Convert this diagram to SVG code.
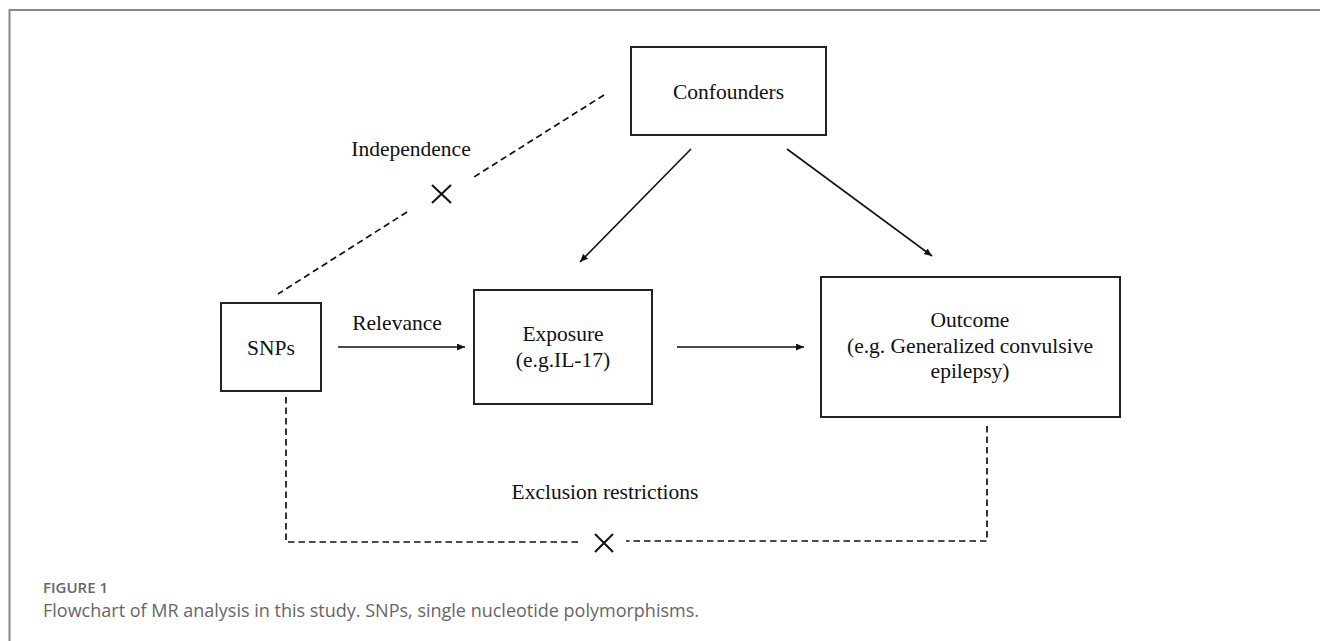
<svg xmlns="http://www.w3.org/2000/svg" width="1320" height="641" viewBox="0 0 1320 641">
<style>
.box{fill:#fff;stroke:#222;stroke-width:2}
.lbl{font-family:"Liberation Serif","Times New Roman",serif;font-size:21.5px;fill:#111;text-anchor:middle}
.arrow{stroke:#111;stroke-width:1.6;fill:none;marker-end:url(#ah)}
.dash{stroke:#111;stroke-width:1.7;fill:none;stroke-dasharray:6.5 4}
.cross{stroke:#111;stroke-width:2;fill:none}
.cap{font-family:"Open Sans","Noto Sans",sans-serif;fill:#666}
</style>
<defs>
<marker id="ah" markerUnits="userSpaceOnUse" markerWidth="9" markerHeight="8" refX="8" refY="3.5" orient="auto">
<path d="M0,0 L8,3.5 L0,7 z" fill="#111"/>
</marker>
</defs>
<rect width="1320" height="641" fill="#fff"/>
<path d="M9.5,641 V10 H1320" fill="none" stroke="#888" stroke-width="2"/>

<g id="confounders">
<rect class="box" x="631" y="47" width="195" height="88"/>
<text class="lbl" x="728.5" y="99" font-size="22">Confounders</text>
</g>
<g id="snps">
<rect class="box" x="221" y="303" width="100" height="88"/>
<text class="lbl" x="271" y="355">SNPs</text>
</g>
<g id="exposure">
<rect class="box" x="474" y="290" width="178" height="114"/>
<text class="lbl" x="563" y="341">Exposure</text>
<text class="lbl" x="563" y="367">(e.g.IL-17)</text>
</g>
<g id="outcome">
<rect class="box" x="821" y="277" width="299" height="140"/>
<text class="lbl" x="970" y="327">Outcome</text>
<text class="lbl" x="970" y="353">(e.g. Generalized convulsive</text>
<text class="lbl" x="970" y="378">epilepsy)</text>
</g>

<g id="connectors">
<line class="arrow" x1="691" y1="149" x2="580" y2="262"/>
<line class="arrow" x1="787" y1="149" x2="932" y2="256"/>
<line class="arrow" x1="338" y1="347" x2="465" y2="347"/>
<line class="arrow" x1="677" y1="347" x2="804" y2="347"/>
<line class="dash" x1="604" y1="95" x2="474" y2="177"/>
<line class="dash" x1="407" y1="212" x2="278" y2="294"/>
<polyline class="dash" points="286,397 286,542 580,542"/>
<polyline class="dash" points="987,426 987,541 626,541"/>
<path class="cross" d="M432,185 L451,203 M451,185 L432,203"/>
<path class="cross" d="M595,534 L613,552 M613,534 L595,552"/>
</g>

<g id="labels">
<text class="lbl" x="411" y="156">Independence</text>
<text class="lbl" x="397" y="330" font-size="18">Relevance</text>
<text class="lbl" x="605" y="499">Exclusion restrictions</text>
</g>

<g id="caption">
<text class="cap" x="43" y="593" font-size="15" font-weight="600" fill="#777">FIGURE 1</text>
<text class="cap" x="43" y="617" font-size="18">Flowchart of MR analysis in this study. SNPs, single nucleotide polymorphisms.</text>
</g>
</svg>
